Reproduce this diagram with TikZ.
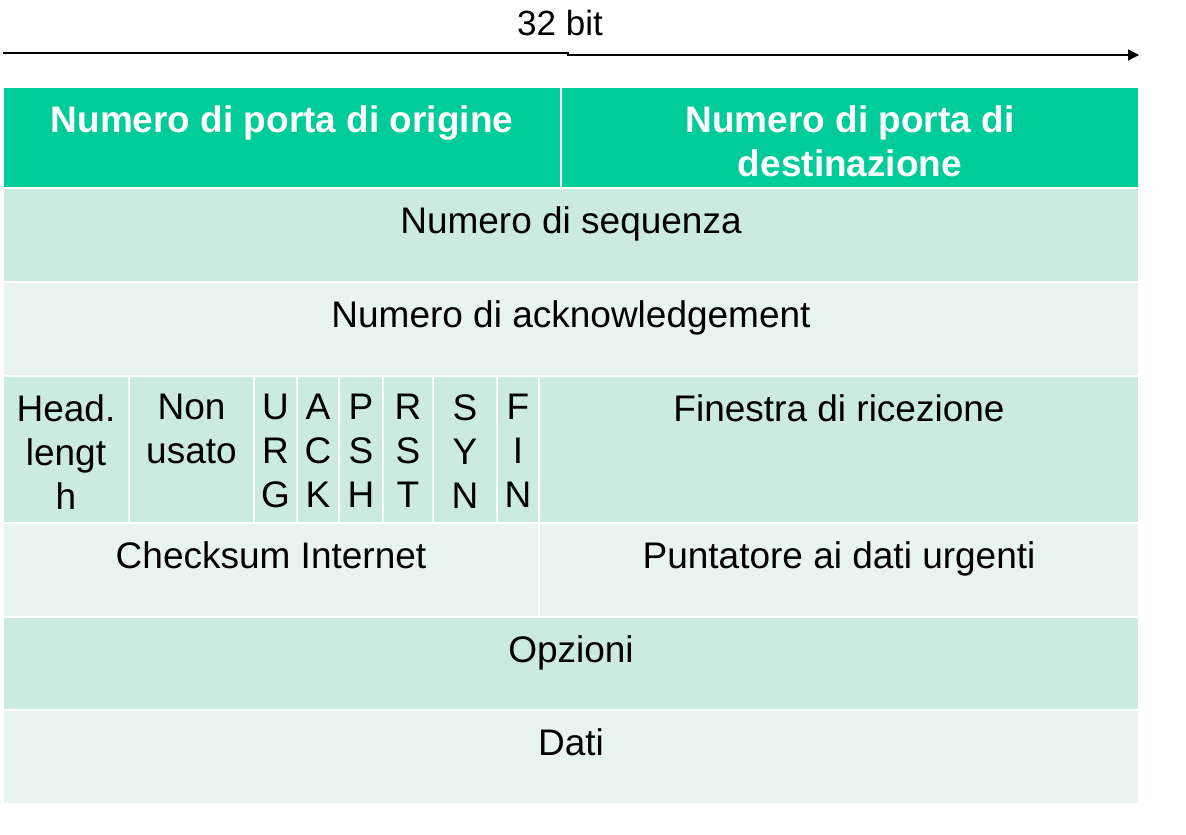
\documentclass[tikz,border=0pt]{standalone}
\usepackage{fontspec}
\setmainfont{Liberation Sans}
\usepackage{xcolor}
\usepackage{tikz}
\usetikzlibrary{arrows.meta, positioning}
\definecolor{tcpgreen}{RGB}{0,204,153}
\definecolor{banddark}{RGB}{204,235,224}
\definecolor{bandlight}{RGB}{231,244,239}

\begin{document}
\begin{tikzpicture}[
  x=1pt, y=-1pt,
  cell/.style={draw=white, line width=2pt},
  txt/.style={anchor=north, inner sep=0pt, align=center,
    font=\fontsize{37}{44}\selectfont},
  head/.style={txt, text=white, font=\fontsize{37}{44}\selectfont\bfseries},
  arr/.style={-{Triangle[length=11pt, width=11pt]}, line width=1.4pt},
]
  \useasboundingbox (0,0) rectangle (1186,835);

  % Width arrow
  \node[anchor=base, inner sep=0pt, font=\fontsize{35}{42}\selectfont] (bits) at (560,35) {32 bit};
  \coordinate (bitL) at (3,53);
  \coordinate (bitM) at (568,53);
  \coordinate (bitR) at (1139,55);
  \draw[arr] (bitL) -- (bitM) |- (bitR);

  % Header row
  \path[cell, fill=tcpgreen] (3,87) rectangle (561,188);
  \path[cell, fill=tcpgreen] (561,87) rectangle (1139,188);
  \node[head] (srcport) at (282,105) {Numero di porta di origine};
  \node[head] (dstport) at (850,105) {Numero di porta di\\destinazione};

  % Sequence and acknowledgement
  \path[cell, fill=banddark] (3,188) rectangle (1139,282);
  \node[txt] (seq) at (571,206) {Numero di sequenza};
  \path[cell, fill=bandlight] (3,282) rectangle (1139,376);
  \node[txt] (ack) at (571,300) {Numero di acknowledgement};

  % Header length, flags, window
  \path[cell, fill=banddark] (3,376) rectangle (129,523);
  \path[cell, fill=banddark] (129,376) rectangle (254,523);
  \path[cell, fill=banddark] (254,376) rectangle (297,523);
  \path[cell, fill=banddark] (297,376) rectangle (339,523);
  \path[cell, fill=banddark] (339,376) rectangle (383,523);
  \path[cell, fill=banddark] (383,376) rectangle (433,523);
  \path[cell, fill=banddark] (433,376) rectangle (497,523);
  \path[cell, fill=banddark] (497,376) rectangle (539,523);
  \path[cell, fill=banddark] (539,376) rectangle (1139,523);
  \node[txt] (hlen) at (66,394) {Head.\\lengt\\h};
  \node[txt] (unused) at (191.5,394) {Non\\usato};
  \node[txt] (urg) at (275.5,394) {U\\R\\G};
  \node[txt] (ackf) at (318,394) {A\\C\\K};
  \node[txt] (psh) at (361,394) {P\\S\\H};
  \node[txt] (rst) at (408,394) {R\\S\\T};
  \node[txt] (syn) at (465,394) {S\\Y\\N};
  \node[txt] (fin) at (518,394) {F\\I\\N};
  \node[txt] (window) at (839,394) {Finestra di ricezione};

  % Checksum and urgent pointer
  \path[cell, fill=bandlight] (3,523) rectangle (539,617);
  \path[cell, fill=bandlight] (539,523) rectangle (1139,617);
  \node[txt] (checksum) at (271,541) {Checksum Internet};
  \node[txt] (urgptr) at (839,541) {Puntatore ai dati urgenti};

  % Options and data
  \path[cell, fill=banddark] (3,617) rectangle (1139,710);
  \node[txt] (opts) at (571,635) {Opzioni};
  \path[cell, fill=bandlight] (3,710) rectangle (1139,804);
  \node[txt] (data) at (571,728) {Dati};
\end{tikzpicture}
\end{document}
